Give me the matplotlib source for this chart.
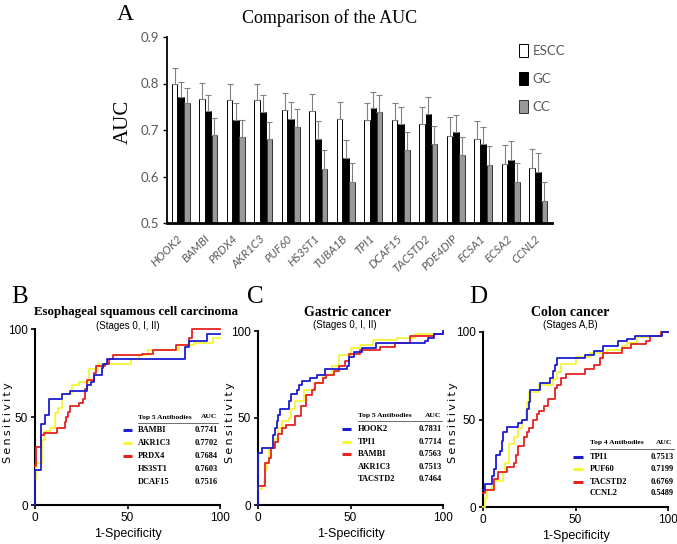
import numpy as np
import matplotlib
matplotlib.use("Agg")
import matplotlib.pyplot as plt

# ----------------------------
# Panel A data (bar chart)
# ----------------------------
genes = ["HOOK2", "BAMBI", "PRDX4", "AKR1C3", "PUF60", "HS3ST1", "TUBA1B",
         "TPI1", "DCAF15", "TACSTD2", "PDE4DIP", "ECSA1", "ECSA2", "CCNL2"]
escc_auc = [0.800, 0.766, 0.765, 0.764, 0.743, 0.740, 0.723,
            0.722, 0.721, 0.712, 0.688, 0.680, 0.627, 0.619]
escc_err = [0.033, 0.036, 0.035, 0.036, 0.036, 0.037, 0.037,
            0.036, 0.037, 0.038, 0.039, 0.040, 0.040, 0.041]
gc_auc = [0.770, 0.741, 0.722, 0.739, 0.723, 0.681, 0.639,
          0.748, 0.713, 0.735, 0.696, 0.669, 0.636, 0.610]
gc_err = [0.034, 0.034, 0.037, 0.036, 0.037, 0.038, 0.040,
          0.034, 0.037, 0.035, 0.037, 0.038, 0.040, 0.040]
cc_auc = [0.757, 0.689, 0.684, 0.681, 0.707, 0.617, 0.589,
          0.739, 0.657, 0.670, 0.646, 0.625, 0.589, 0.548]
cc_err = [0.034, 0.037, 0.037, 0.037, 0.038, 0.040, 0.041,
          0.036, 0.039, 0.038, 0.039, 0.040, 0.041, 0.040]
series_labels = ["ESCC", "GC", "CC"]

# ----------------------------
# ROC data (fpr %, sensitivity %), step points
# ----------------------------
esc_bambi_x = [0, 0, 3.5, 5.5, 7.5, 14.5, 19, 28, 30, 32, 36, 37, 39, 81, 83, 93, 100]
esc_bambi_y = [0, 20, 46, 51, 60, 63, 65, 68, 70, 74, 78, 80, 83, 90, 93, 97, 97]
esc_akr_x = [0, 0.5, 3.6, 5.4, 8, 10.8, 12.6, 14.4, 20, 24, 29, 34, 52, 56, 61, 78, 86, 96, 100]
esc_akr_y = [15, 24, 37, 42, 44, 52, 55, 63, 68, 70, 77, 80, 83, 85, 88, 91, 92, 95, 95]
esc_prdx_x = [0, 0.5, 3, 5, 12, 16, 17, 18, 19, 24, 26, 27, 28, 32, 33, 38, 40, 42, 58, 64, 76, 83, 85, 100]
esc_prdx_y = [22, 33, 40, 41, 44, 47, 50, 53, 56, 58, 60, 66, 71, 75, 79, 80, 83, 85, 86, 88, 91, 95, 100, 100]

gc_hook_x = [0, 0, 2, 8, 9, 10, 11, 12, 17, 18, 21, 22, 24, 28, 32, 36, 48, 49, 52, 56, 64, 90, 92, 95, 100]
gc_hook_y = [0, 30, 33, 40, 44, 48, 52, 55, 60, 64, 66, 69, 71, 73, 75, 78, 80, 85, 88, 90, 93, 94, 96, 98, 100]
gc_tpi_x = [0, 2, 3, 4, 5, 6, 9, 11, 13, 17, 18, 20, 25, 30, 35, 40, 44, 50, 55, 62, 75, 85, 100]
gc_tpi_y = [9, 11, 15, 20, 25, 33, 38, 44, 48, 50, 55, 60, 66, 70, 75, 80, 86, 90, 92, 95, 96, 98, 100]
gc_bambi_x = [0, 3, 4, 6, 7, 9, 11, 13, 15, 20, 23, 26, 29, 31, 35, 37, 41, 44, 47, 49, 55, 66, 74, 82, 95, 100]
gc_bambi_y = [11, 11, 24, 27, 33, 36, 41, 44, 46, 51, 57, 63, 66, 70, 73, 75, 77, 80, 83, 87, 89, 91, 93, 97, 98, 100]

cc_tpi_x = [0, 1, 5, 6, 7, 9, 10, 11, 13, 19, 21, 24, 25, 25.5, 31, 36, 38, 39, 40, 55, 60, 65, 73, 78, 82, 97, 100]
cc_tpi_y = [10, 13, 18, 22, 30, 32, 38, 43, 46, 48, 50, 56, 60, 67, 71, 74, 78, 81, 85, 87, 89, 92, 95, 96, 98, 100, 100]
cc_puf_x = [0, 1, 2, 5, 11, 12, 14, 17, 19, 21, 23, 24, 25, 30, 38, 40, 42, 50, 58, 67, 75, 78, 83, 90, 96, 100]
cc_puf_y = [0, 5, 10, 15, 20, 25, 36, 40, 45, 50, 55, 60, 66, 70, 73, 77, 82, 86, 88, 90, 92, 94, 97, 98, 100, 100]
cc_tac_x = [0, 1, 6, 8, 13, 17, 18, 19, 22, 24, 25, 27, 29, 30, 33, 35, 39, 40, 42, 45, 55, 60, 63, 65, 75, 80, 88, 90, 96, 100]
cc_tac_y = [8, 10, 16, 20, 23, 25, 30, 35, 40, 43, 45, 50, 53, 55, 58, 62, 68, 70, 74, 76, 79, 81, 85, 88, 91, 93, 95, 98, 100, 100]

esc_names = ["BAMBI", "AKR1C3", "PRDX4", "HS3ST1", "DCAF15"]
esc_aucs = ["0.7741", "0.7702", "0.7684", "0.7603", "0.7516"]
gc_names = ["HOOK2", "TPI1", "BAMBI", "AKR1C3", "TACSTD2"]
gc_aucs = ["0.7831", "0.7714", "0.7563", "0.7513", "0.7464"]
cc_names = ["TPI1", "PUF60", "TACSTD2", "CCNL2"]
cc_aucs = ["0.7513", "0.7199", "0.6769", "0.5489"]

BLUE = "#1c1cd0"
YELLOW = "#f5f53a"
RED = "#e52222"
GRAY_TXT = "#595959"
SERIF = "Liberation Serif"
SANS = "Liberation Sans"

W, H = 677, 544
fig = plt.figure(figsize=(W / 100, H / 100), dpi=100)


def fx(px):
    return px / W


def fy(py):
    return 1 - py / H


# ----------------------------
# Panel A
# ----------------------------
axA = fig.add_axes([fx(167), fy(223), fx(552 - 167), (223 - 37) / H])
x = np.arange(len(genes))
bw = 0.2
off = 0.22
err_kw = dict(ecolor="#808080", elinewidth=0.8, capsize=2, capthick=0.8)
b1 = axA.bar(x - off, escc_auc, bw, color="white", edgecolor="black", linewidth=0.7,
             yerr=[np.zeros(len(x)), escc_err], error_kw=err_kw, label="ESCC")
b2 = axA.bar(x, gc_auc, bw, color="black", edgecolor="black", linewidth=0.7,
             yerr=[np.zeros(len(x)), gc_err], error_kw=err_kw, label="GC")
b3 = axA.bar(x + off, cc_auc, bw, color="#999999", edgecolor="#333333", linewidth=0.7,
             yerr=[np.zeros(len(x)), cc_err], error_kw=err_kw, label="CC")
axA.set_ylim(0.5, 0.9)
axA.set_xlim(-0.5, len(genes) - 0.5)
axA.set_yticks([0.5, 0.6, 0.7, 0.8, 0.9])
axA.set_yticklabels(["0.5", "0.6", "0.7", "0.8", "0.9"], family="Lato", fontsize=9.5, color=GRAY_TXT)
axA.set_xticks(x)
axA.set_xticklabels(genes, rotation=45, ha="right", va="center", rotation_mode="anchor",
                    family="Lato", style="italic", fontsize=8.3, color=GRAY_TXT)
axA.tick_params(axis="x", length=0, pad=10)
axA.tick_params(axis="y", length=3, width=1, pad=3)
for s in ["top", "right"]:
    axA.spines[s].set_visible(False)
axA.spines["left"].set_linewidth(1.3)
axA.spines["bottom"].set_linewidth(2)

fig.text(fx(123), fy(122), "AUC", rotation=90, family=SERIF, fontsize=15, ha="center", va="center")
fig.text(fx(330), fy(18), "Comparison of the AUC", family=SERIF, fontsize=13, ha="center", va="center")
fig.text(fx(125), fy(15), "A", family=SERIF, fontsize=17, ha="center", va="center")

leg = fig.legend(handles=[b1, b2, b3], labels=series_labels, loc="upper left",
                 bbox_to_anchor=(fx(507), fy(32)), frameon=False, handlelength=0.7,
                 handleheight=1.1, handletextpad=0.35, labelspacing=1.15,
                 prop={"family": "Lato", "size": 9.5})
for t in leg.get_texts():
    t.set_color(GRAY_TXT)


# ----------------------------
# ROC panels
# ----------------------------
def roc_axes(left, bottom_px, top_px, label_x):
    ax = fig.add_axes([fx(left), fy(bottom_px), fx(185), (bottom_px - top_px) / H])
    ax.set_xlim(0, 100)
    ax.set_ylim(0, 100)
    ax.set_xticks([0, 50, 100])
    ax.set_yticks([0, 50, 100])
    ax.set_xticklabels(["0", "50", "100"], family=SANS, fontsize=8.5)
    ax.set_yticklabels(["0", "50", "100"], family=SANS, fontsize=8.5)
    ax.tick_params(length=3, width=1.2, pad=2)
    for s in ["top", "right"]:
        ax.spines[s].set_visible(False)
    for s in ["left", "bottom"]:
        ax.spines[s].set_linewidth(1.5)
    ax.set_xlabel("1-Specificity", family=SANS, fontsize=9, labelpad=3)
    fig.text(fx(label_x), fy(423),
             "S\u2009e\u2009n\u2009s\u2009i\u2009t\u2009i\u2009v\u2009i\u2009t\u2009y",
             family="DejaVu Sans", fontsize=8, rotation=90, ha="center", va="center")
    return ax


def draw_curve(ax, xs, ys, color):
    ax.step(xs, ys, where="post", color=color, linewidth=1.3, clip_on=False, zorder=3)


def draw_table(ax, header, names, aucs, colors, hx, hy, ry, mx, rx):
    fs = 6
    ax.text(hx, hy, header, transform=ax.transAxes, family=SERIF, fontweight="bold",
            fontsize=5.4, ha="left", va="center")
    ax.text(rx - 0.005, hy, "AUC", transform=ax.transAxes, family=SERIF, fontweight="bold",
            fontsize=5.4, ha="right", va="center")
    ax.plot([hx, rx], [hy - 0.035, hy - 0.035], transform=ax.transAxes, color="#555555",
            linewidth=0.6, clip_on=False)
    for i, (n, a) in enumerate(zip(names, aucs)):
        yy = ry[i]
        if i < len(colors):
            ax.plot([mx[0], mx[1]], [yy, yy], transform=ax.transAxes, color=colors[i],
                    linewidth=2.2, solid_capstyle="butt", clip_on=False)
        ax.text(hx, yy, n, transform=ax.transAxes, family=SERIF, fontweight="bold",
                fontsize=fs, ha="left", va="center")
        ax.text(rx, yy, a, transform=ax.transAxes, family=SERIF, fontweight="bold",
                fontsize=fs, ha="right", va="center")


axB = roc_axes(35, 505, 329, 8)
draw_curve(axB, esc_akr_x, esc_akr_y, YELLOW)
draw_curve(axB, esc_prdx_x, esc_prdx_y, RED)
draw_curve(axB, esc_bambi_x, esc_bambi_y, BLUE)
draw_table(axB, "Top 5 Antibodies", esc_names, esc_aucs, [BLUE, YELLOW, RED],
           0.557, 0.50, [0.426, 0.352, 0.278, 0.205, 0.13], (0.476, 0.524), 0.99)

axC = roc_axes(258, 505, 331, 230)
draw_curve(axC, gc_tpi_x, gc_tpi_y, YELLOW)
draw_curve(axC, gc_bambi_x, gc_bambi_y, RED)
draw_curve(axC, gc_hook_x, gc_hook_y, BLUE)
draw_table(axC, "Top 5 Antibodies", gc_names, gc_aucs, [BLUE, YELLOW, RED],
           0.54, 0.517, [0.437, 0.362, 0.293, 0.218, 0.149], (0.454, 0.503), 0.995)

axD = roc_axes(483, 507, 332, 453)
draw_curve(axD, cc_puf_x, cc_puf_y, YELLOW)
draw_curve(axD, cc_tac_x, cc_tac_y, RED)
draw_curve(axD, cc_tpi_x, cc_tpi_y, BLUE)
draw_table(axD, "Top 4 Antibodies", cc_names, cc_aucs, [BLUE, YELLOW, RED],
           0.578, 0.366, [0.286, 0.217, 0.143, 0.08], (0.487, 0.54), 1.03)

# panel letters and titles
for lx, letter in [(20, "B"), (255, "C"), (478, "D")]:
    fig.text(fx(lx), fy(297), letter, family=SERIF, fontsize=18, ha="center", va="center")
fig.text(fx(136), fy(312), "Esophageal squamous cell carcinoma", family=SERIF,
         fontweight="bold", fontsize=9.3, ha="center", va="center")
fig.text(fx(348), fy(312), "Gastric cancer", family=SERIF, fontweight="bold",
         fontsize=10, ha="center", va="center")
fig.text(fx(570), fy(312), "Colon cancer", family=SERIF, fontweight="bold",
         fontsize=10, ha="center", va="center")
fig.text(fx(128), fy(326), "(Stages 0, I, II)", family=SANS, fontsize=7, ha="center", va="center")
fig.text(fx(345), fy(325), "(Stages 0, I, II)", family=SANS, fontsize=7, ha="center", va="center")
fig.text(fx(570), fy(325), "(Stages A,B)", family=SANS, fontsize=7, ha="center", va="center")

fig.savefig("out.png", dpi=100)
